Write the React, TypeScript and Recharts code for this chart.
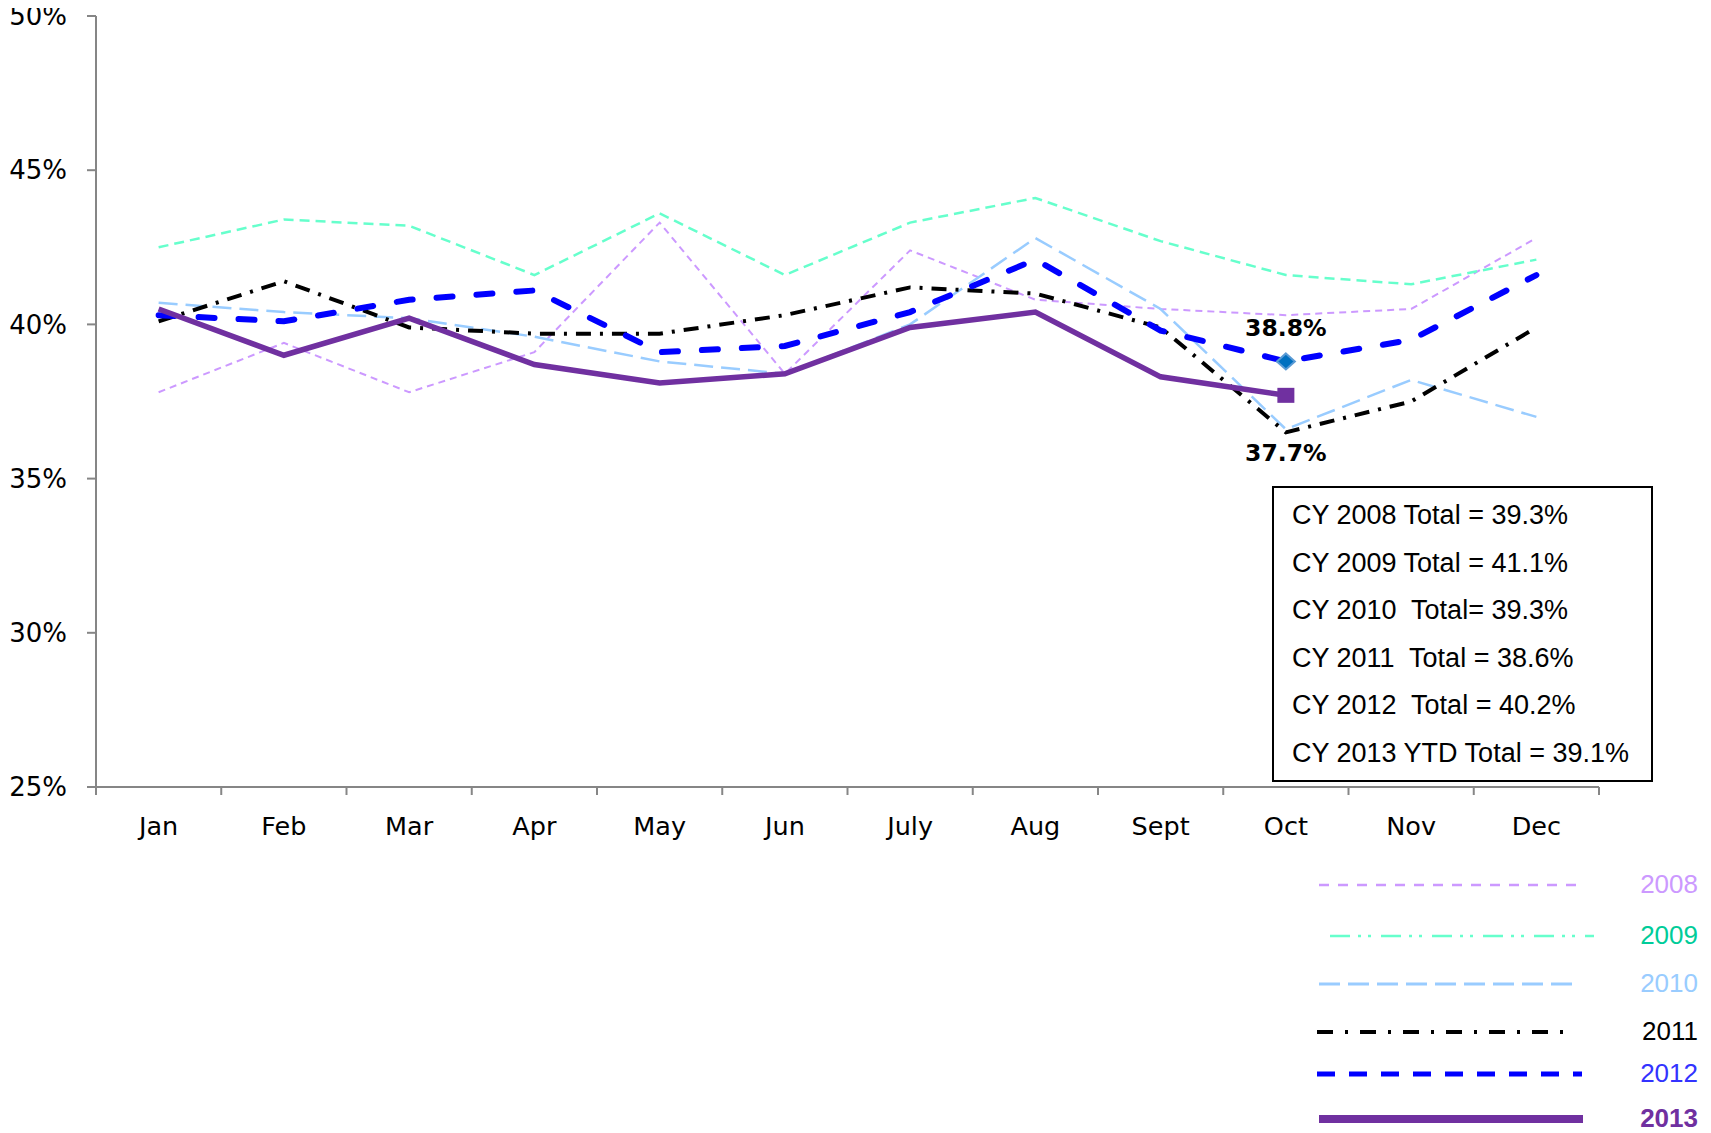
import React from 'react';
import { LineChart, Line, XAxis, YAxis } from 'recharts';

const months = ['Jan', 'Feb', 'Mar', 'Apr', 'May', 'Jun', 'July', 'Aug', 'Sept', 'Oct', 'Nov', 'Dec'];
const y2008 = [37.8, 39.4, 37.8, 39.1, 43.3, 38.4, 42.4, 40.8, 40.5, 40.3, 40.5, 42.8];
const y2009 = [42.5, 43.4, 43.2, 41.6, 43.6, 41.6, 43.3, 44.1, 42.7, 41.6, 41.3, 42.1];
const y2010 = [40.7, 40.4, 40.2, 39.6, 38.8, 38.4, 40.0, 42.8, 40.5, 36.6, 38.2, 37.0];
const y2011 = [40.1, 41.4, 39.9, 39.7, 39.7, 40.3, 41.2, 41.0, 39.9, 36.5, 37.5, 39.9];
const y2012 = [40.3, 40.1, 40.8, 41.1, 39.1, 39.3, 40.4, 42.1, 39.8, 38.8, 39.5, 41.6];
const y2013: (number | null)[] = [40.5, 39.0, 40.2, 38.7, 38.1, 38.4, 39.9, 40.4, 38.3, 37.7, null, null];
const yTicks = [25, 30, 35, 40, 45, 50];
const totals = [
  'CY 2008 Total = 39.3%',
  'CY 2009 Total = 41.1%',
  'CY 2010  Total= 39.3%',
  'CY 2011  Total = 38.6%',
  'CY 2012  Total = 40.2%',
  'CY 2013 YTD Total = 39.1%',
];
const legendYears = ['2008', '2009', '2010', '2011', '2012', '2013'];

const data = months.map((m, i) => ({
  x: i + 0.5,
  month: m,
  y2008: y2008[i],
  y2009: y2009[i],
  y2010: y2010[i],
  y2011: y2011[i],
  y2012: y2012[i],
  y2013: y2013[i],
}));

const xTicks = Array.from({ length: 25 }, (_, i) => i / 2);
const AXIS = '#868686';
const AXIS_FONT = '"DejaVu Sans", Verdana, sans-serif';
const BOX_FONT = '"Liberation Sans", Arial, sans-serif';

const XTick = (props: any) => {
  const { x, y, payload } = props;
  const v = payload.value;
  if (Number.isInteger(v)) {
    return <line x1={x} y1={y} x2={x} y2={y + 8} stroke={AXIS} strokeWidth={2} />;
  }
  return (
    <text x={x} y={y + 39} textAnchor="middle" dominantBaseline="central" fontFamily={AXIS_FONT} fontSize={25.5} fill="#000">
      {months[Math.floor(v)]}
    </text>
  );
};

const fmt = (v: number) => `${v.toFixed(1)}%`;

const dot2012 = (p: any) => {
  if (p.index !== 9 || p.cy == null) return <g key={`d12-${p.index}`} />;
  const { cx, cy } = p;
  return (
    <g key={`d12-${p.index}`}>
      <path d={`M${cx},${cy - 8} L${cx + 9},${cy} L${cx},${cy + 8} L${cx - 9},${cy} Z`} fill="#0070C0" stroke="#5B9BD5" strokeWidth={2} />
      <text x={cx} y={cy - 33} textAnchor="middle" dominantBaseline="central" fontFamily={AXIS_FONT} fontWeight="bold" fontSize={23.5} fill="#000">
        {fmt(p.value)}
      </text>
    </g>
  );
};

const dot2013 = (p: any) => {
  if (p.index !== 9 || p.cy == null) return <g key={`d13-${p.index}`} />;
  const { cx, cy } = p;
  return (
    <g key={`d13-${p.index}`}>
      <rect x={cx - 8.5} y={cy - 7.5} width={17} height={15} fill="#7030A0" />
      <text x={cx} y={cy + 58} textAnchor="middle" dominantBaseline="central" fontFamily={AXIS_FONT} fontWeight="bold" fontSize={23.5} fill="#000">
        {fmt(p.value)}
      </text>
    </g>
  );
};

// page coordinates minus the 8px body margin
const legendStyles = [
  { stroke: '#CC99FF', width: 2.5, dash: '10 9', x1: 1311, x2: 1575, y: 877, text: '#CC99FF', bold: false },
  { stroke: '#66FFCC', width: 2.5, dash: '20 8 3 7 3 10', x1: 1322, x2: 1586, y: 928, text: '#00CC99', bold: false },
  { stroke: '#99CCFF', width: 3, dash: '21 8', x1: 1311, x2: 1567, y: 976, text: '#99CCFF', bold: false },
  { stroke: '#000000', width: 4, dash: '16 12 3 12', x1: 1309, x2: 1562, y: 1024, text: '#000000', bold: false },
  { stroke: '#0000FF', width: 5, dash: '18 14', x1: 1309, x2: 1574, y: 1066, text: '#3333FF', bold: false },
  { stroke: '#7030A0', width: 8, dash: undefined, x1: 1311, x2: 1575, y: 1111, text: '#7030A0', bold: true },
];

export default function App() {
  return (
    <div style={{ position: 'relative', width: 1700, height: 1125 }}>
      <style>{`.recharts-surface, .recharts-wrapper { overflow: visible !important; }`}</style>
      <LineChart width={1700} height={1125} data={data} margin={{ top: 8, right: 109, bottom: 286, left: 0 }}>
        <XAxis
          dataKey="x"
          type="number"
          domain={[0, 12]}
          ticks={xTicks}
          interval={0}
          tick={XTick}
          tickLine={false}
          tickSize={0}
          tickMargin={0}
          height={60}
          axisLine={{ stroke: AXIS, strokeWidth: 2 }}
        />
        <YAxis
          type="number"
          domain={[25, 50]}
          ticks={yTicks}
          interval={0}
          width={88}
          tickSize={9}
          tickMargin={20}
          tickFormatter={(v: number) => `${v}%`}
          tick={{ fontFamily: AXIS_FONT, fontSize: 26, fill: '#000' }}
          tickLine={{ stroke: AXIS, strokeWidth: 2 }}
          axisLine={{ stroke: AXIS, strokeWidth: 2 }}
        />
        <Line dataKey="y2008" type="linear" stroke="#CC99FF" strokeWidth={2} strokeDasharray="7 5" dot={false} isAnimationActive={false} />
        <Line dataKey="y2009" type="linear" stroke="#66FFCC" strokeWidth={2.5} strokeDasharray="10 6" dot={false} isAnimationActive={false} />
        <Line dataKey="y2010" type="linear" stroke="#99CCFF" strokeWidth={2.5} strokeDasharray="19 8" dot={false} isAnimationActive={false} />
        <Line dataKey="y2011" type="linear" stroke="#000000" strokeWidth={4} strokeDasharray="15 9 3 9" dot={false} isAnimationActive={false} />
        <Line dataKey="y2012" type="linear" stroke="#0000FF" strokeWidth={6} strokeLinecap="round" strokeDasharray="16 24" dot={dot2012} isAnimationActive={false} />
        <Line dataKey="y2013" type="linear" stroke="#7030A0" strokeWidth={5.5} dot={dot2013} isAnimationActive={false} />
      </LineChart>
      <svg width={1700} height={1125} style={{ position: 'absolute', left: 0, top: 0, pointerEvents: 'none', overflow: 'visible' }}>
        <rect x={1265} y={479} width={379} height={294} fill="#fff" stroke="#000" strokeWidth={2} />
        {totals.map((t, i) => (
          <text key={t} x={1284} y={507 + i * 47.6} dominantBaseline="central" fontFamily={BOX_FONT} fontSize={27} fill="#000" style={{ whiteSpace: 'pre' }}>
            {t}
          </text>
        ))}
        {legendStyles.map((s, i) => (
          <g key={legendYears[i]}>
            <line x1={s.x1} x2={s.x2} y1={s.y} y2={s.y} stroke={s.stroke} strokeWidth={s.width} strokeDasharray={s.dash} />
            <text x={1690} y={s.y - 1} textAnchor="end" dominantBaseline="central" fontFamily={BOX_FONT} fontSize={26} fontWeight={s.bold ? 'bold' : 'normal'} fill={s.text}>
              {legendYears[i]}
            </text>
          </g>
        ))}
      </svg>
    </div>
  );
}
